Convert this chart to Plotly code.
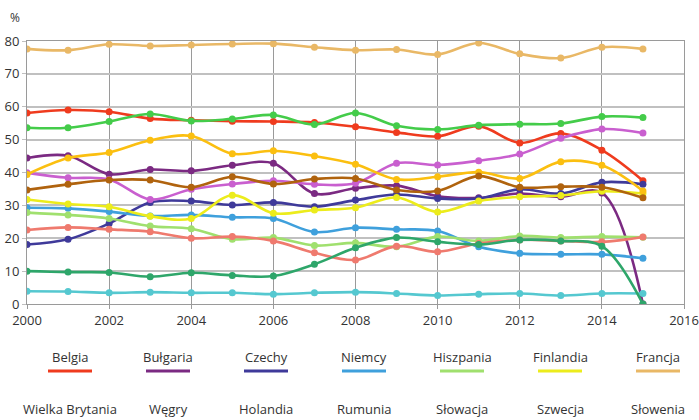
import plotly.graph_objects as go

years = list(range(2000, 2016))

belgia = [58.1, 59.0, 58.5, 56.4, 55.9, 55.6, 55.5, 55.2, 53.9, 52.2, 51.0, 54.1, 49.0, 51.9, 46.8, 37.5]
bulgaria = [44.4, 45.1, 39.5, 40.9, 40.5, 42.2, 42.8, 33.6, 35.2, 36.0, 32.8, 32.3, 33.6, 32.6, 33.8, 0.0]
czechy = [18.1, 19.7, 24.5, 30.9, 31.3, 30.1, 30.9, 29.6, 31.6, 33.3, 32.1, 32.1, 34.9, 33.6, 37.0, 36.4]
niemcy = [29.3, 29.1, 28.1, 26.8, 27.1, 26.4, 26.0, 21.9, 23.2, 22.7, 22.2, 17.4, 15.4, 15.1, 15.1, 13.9]
hiszpania = [27.8, 27.1, 26.0, 23.7, 22.9, 19.7, 20.2, 17.8, 18.6, 17.4, 20.5, 19.2, 20.7, 20.2, 20.5, 20.3]
finlandia = [31.8, 30.4, 29.6, 26.7, 26.0, 33.1, 27.6, 28.6, 29.3, 32.4, 28.0, 31.3, 32.6, 33.0, 34.3, 33.6]
francja = [77.6, 77.2, 79.0, 78.5, 78.8, 79.1, 79.2, 78.1, 77.2, 77.4, 75.9, 79.4, 76.1, 74.8, 78.1, 77.6]
wielka_brytania = [22.5, 23.3, 22.7, 22.0, 20.0, 20.5, 19.2, 15.6, 13.4, 17.6, 15.9, 18.4, 19.5, 19.2, 18.9, 20.4]
wegry = [39.9, 38.4, 37.9, 31.8, 34.9, 36.5, 37.5, 36.4, 36.7, 42.8, 42.3, 43.6, 45.6, 50.4, 53.2, 52.0]
holandia = [3.9, 3.8, 3.4, 3.6, 3.4, 3.4, 3.0, 3.4, 3.6, 3.2, 2.6, 3.0, 3.2, 2.6, 3.2, 3.2]
rumunia = [10.0, 9.7, 9.6, 8.3, 9.5, 8.7, 8.5, 12.1, 17.1, 20.2, 18.9, 18.1, 19.5, 19.2, 17.6, 0.0]
slowacja = [53.6, 53.6, 55.5, 57.8, 55.7, 56.3, 57.5, 54.6, 58.1, 54.2, 53.1, 54.4, 54.7, 54.9, 57.0, 56.7]
szwecja = [39.4, 44.4, 46.1, 49.8, 51.1, 45.7, 46.6, 45.0, 42.5, 37.9, 38.7, 40.1, 38.2, 43.3, 42.2, 34.4]
slowenia = [34.7, 36.4, 37.7, 37.7, 35.5, 38.7, 36.5, 38.0, 38.2, 34.7, 34.4, 38.9, 35.5, 35.7, 35.5, 32.3]

names = ["Belgia", "Bułgaria", "Czechy", "Niemcy", "Hiszpania", "Finlandia", "Francja",
         "Wielka Brytania", "Węgry", "Holandia", "Rumunia", "Słowacja", "Szwecja", "Słowenia"]
values = [belgia, bulgaria, czechy, niemcy, hiszpania, finlandia, francja,
          wielka_brytania, wegry, holandia, rumunia, slowacja, szwecja, slowenia]
colors = ["#ef3b1e", "#7b2a82", "#3f3a9a", "#3fa0dc", "#a0e06e", "#ecec1c", "#e9b866",
          "#ef7a6e", "#c95fcf", "#55c8d0", "#2ea66a", "#44cc4a", "#fbbf10", "#b0630e"]

x_ticks = list(range(2000, 2017, 2))
y_ticks = list(range(0, 81, 10))

fig = go.Figure()
for name, vals, col in zip(names, values, colors):
    fig.add_trace(go.Scatter(
        x=years, y=vals, name=name, mode="lines+markers",
        line=dict(color=col, width=2.6, shape="spline", smoothing=1),
        marker=dict(color=col, size=7),
        showlegend=False,
    ))

# custom legend: text above a coloured line, 2 rows of 7
L, R, T, B = 27, 15, 41, 116
W, H = 699, 420
pw, ph = W - L - R, H - T - B
shapes = []
annotations = []
for i, (name, col) in enumerate(zip(names, colors)):
    row, colidx = divmod(i, 7)
    cx = 70 + colidx * 98
    ty = 357 + row * 52
    ly = 371 + row * 52
    xp = (cx - L) / pw
    annotations.append(dict(x=xp, y=(T + ph - ty) / ph, xref="paper", yref="paper",
                            text=name, showarrow=False, xanchor="center", yanchor="middle",
                            font=dict(size=13, color="#333333", family="Open Sans")))
    shapes.append(dict(type="line", xref="paper", yref="paper",
                       x0=(cx - 22 - L) / pw, x1=(cx + 22 - L) / pw,
                       y0=(T + ph - ly) / ph, y1=(T + ph - ly) / ph,
                       line=dict(color=col, width=3)))

annotations.append(dict(x=(15 - L) / pw, y=(T + ph - 17) / ph, xref="paper", yref="paper",
                        text="%", showarrow=False, xanchor="center", yanchor="middle",
                        font=dict(size=12, color="#333333", family="Open Sans")))

fig.update_layout(
    width=W, height=H,
    margin=dict(l=L, r=R, t=T, b=B, pad=0, autoexpand=False),
    paper_bgcolor="white", plot_bgcolor="white",
    font=dict(family="Open Sans", size=13, color="#333333"),
    shapes=shapes, annotations=annotations,
    xaxis=dict(range=[2000, 2016], tickvals=x_ticks, showgrid=True, gridcolor="#9a9a9a",
               gridwidth=1, showline=True, linecolor="#9a9a9a", linewidth=1, mirror=True,
               ticks="outside", ticklen=4, tickcolor="#9a9a9a", zeroline=False,
               automargin=False, tickfont=dict(size=13, color="#333333")),
    yaxis=dict(range=[0, 80], tickvals=y_ticks, showgrid=True, gridcolor="#c0c0c0",
               gridwidth=2, showline=True, linecolor="#9a9a9a", linewidth=1, mirror=True,
               ticks="outside", ticklen=4, tickcolor="#c0c0c0", zeroline=False,
               automargin=False, tickfont=dict(size=13, color="#333333")),
)

fig.write_html(
    "out.html",
    config={"displayModeBar": False},
    post_script="document.body.style.margin='0';document.body.style.overflow='hidden';",
)
